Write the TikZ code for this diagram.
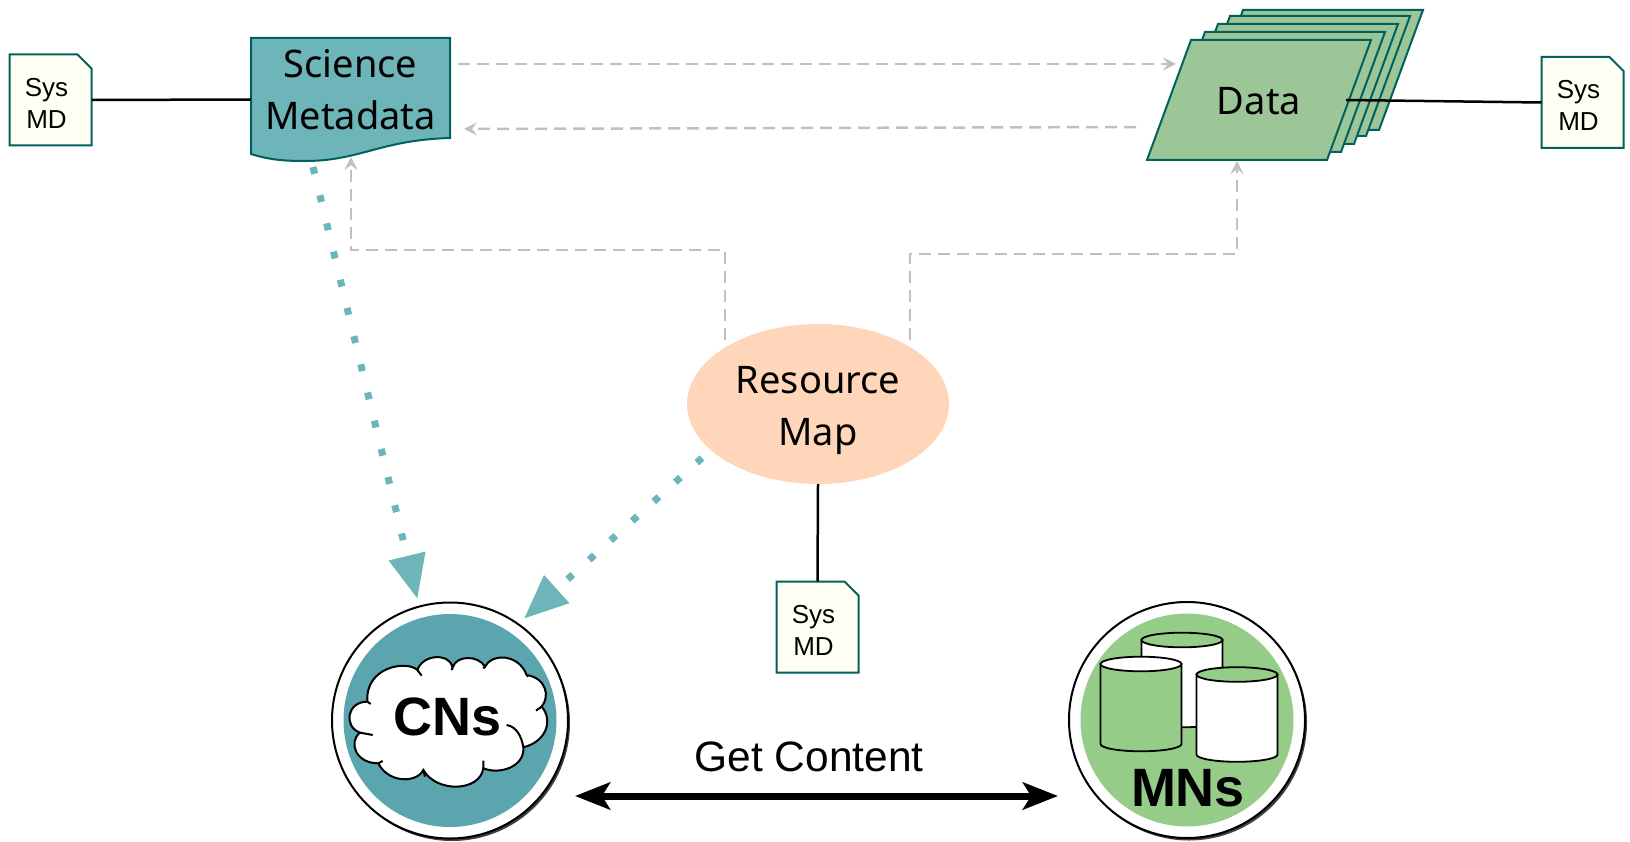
\documentclass[tikz,border=0pt]{standalone}
\usepackage{fontspec}
\setmainfont{Liberation Sans}
\newfontfamily\labelfont{Noto Sans}
\usetikzlibrary{arrows.meta,shapes.geometric,shadows}
\definecolor{darkteal}{HTML}{00625F}
\definecolor{metateal}{HTML}{6DB5B9}
\definecolor{datagreen}{HTML}{9CC697}
\definecolor{notepaper}{HTML}{FFFFF3}
\definecolor{mappeach}{HTML}{FFD6BA}
\definecolor{cnteal}{HTML}{5BA5AE}
\definecolor{mngreen}{HTML}{95CD88}
\definecolor{linkgray}{HTML}{C0C0C0}
\begin{document}
\begin{tikzpicture}[x=1pt,y=-1pt]
% Styles
\tikzset{
  pics/sysnote/.style={code={
    \draw[darkteal, line width=2pt, fill=notepaper] (-41,-45.5) -- (27,-45.5) -- (41,-31.5) -- (41,45.5) -- (-41,45.5) -- cycle;
    \node[minimum width=82pt, minimum height=91pt, inner sep=0pt, label={[inner sep=0pt, xshift=-4pt, yshift=-3pt, align=center, font=\fontsize{26}{32}\selectfont]center:Sys\\MD}] (box) at (0,0) {};
  }},
  pics/sheet/.style={code={
    \draw[darkteal, line width=2pt, fill=datagreen] (-68,-60) -- (112,-60) -- (68,60) -- (-112,60) -- cycle;
  }},
  bigtext/.style={inner sep=0pt, align=center, font=\labelfont\fontsize{38}{52}\selectfont},
  ring/.style={circle, draw=black, line width=2pt, fill=white, minimum size=236pt, inner sep=0pt, outer sep=8pt, drop shadow={shadow xshift=2pt, shadow yshift=-2.5pt, fill=black!75, opacity=1}},
  disc/.style={circle, minimum size=213pt, inner sep=0pt},
  nodename/.style={inner sep=0pt, font=\bfseries\fontsize{54}{60}\selectfont},
  pics/dbcyl/.style 2 args={code={
    \draw[black, line width=1.8pt, fill=#1] (-40.5,-40) -- (-40.5,40) arc[start angle=180, end angle=0, x radius=40.5, y radius=7.3] -- (40.5,-40) -- cycle;
    \draw[black, line width=1.8pt, fill=#2] (0,-40) ellipse[x radius=40.5, y radius=7.3];
  }},
  solidlink/.style={draw=black, line width=2.5pt},
  reflink/.style={draw=linkgray, line width=2.5pt, dash pattern=on 12pt off 7pt, -{Stealth[length=13pt,width=13pt,inset=5pt]}},
  indexlink/.style={draw=metateal, line width=7pt, dash pattern=on 7pt off 22pt, -{Triangle[length=44pt,width=36pt]}},
  getlink/.style={line width=7pt, {Stealth[length=35pt,width=27pt,inset=8pt]}-{Stealth[length=35pt,width=27pt,inset=8pt]}}
}

% Science metadata
\draw[darkteal, line width=2pt, fill=metateal] (251,38) -- (450,38) -- (450,138) .. controls (380,140) and (360,161) .. (305,161) .. controls (285,161) and (270,160) .. (251,154) -- cycle;
\node[minimum width=199pt, minimum height=123pt, inner sep=0pt, label={[bigtext, yshift=10pt]center:Science\\Metadata}] (scimeta) at (350.5,99.5) {};

% Data sheets
\pic at (1311,70) {sheet};
\pic at (1298,76) {sheet};
\pic at (1286,84) {sheet};
\pic at (1273,92) {sheet};
\pic at (1259,100) {sheet};
\node[minimum width=174pt, minimum height=120pt, inner sep=0pt, label={[bigtext, yshift=-1pt]center:Data}] (data) at (1259,100) {};

% Resource map
\node[ellipse, fill=mappeach, minimum width=262pt, minimum height=160pt, inner sep=0pt, label={[bigtext, yshift=-6pt]center:Resource\\Map}] (resmap) at (818,404) {};

% System metadata notes
\pic (sysmeta) at (50.5,100) {sysnote};
\pic (sysdata) at (1582.5,102.5) {sysnote};
\pic (sysmap) at (817.5,627) {sysnote};

% CNs
\node[ring] (cns) at (450,720.5) {};
\node[disc, fill=cnteal] (cndisc) at (450,720.5) {};
\begin{scope}[shift={(310,560)}, x=0.3333pt, y=-0.3333pt]
\draw[black, line width=2pt, fill=white] (150,518) .. controls (100,500) and (110,425) .. (172,425) .. controls (165,320) and (290,300) .. (322,330) .. controls (340,280) and (420,280) .. (428,322) .. controls (440,285) and (505,285) .. (525,320) .. controls (545,280) and (625,280) .. (650,345) .. controls (710,355) and (720,410) .. (695,440) .. controls (730,480) and (710,545) .. (640,562) .. controls (645,620) and (570,645) .. (520,625) .. controls (510,695) and (380,700) .. (340,630) .. controls (320,670) and (235,670) .. (205,610) .. controls (135,610) and (115,545) .. (150,518) -- cycle;
\draw[black, line width=2pt] (150,518) -- (188,525) (172,425) -- (182,432) (322,330) -- (335,347) (428,322) -- (425,330) (525,320) -- (520,325) (650,345) -- (655,350) (695,440) -- (678,452) (590,495) .. controls (620,500) and (635,530) .. (640,562) (520,625) -- (520,602) (340,630) -- (345,650) (205,610) -- (218,603);
\end{scope}
\node[nodename] (cntext) at (448,717) {CNs};

% MNs
\node[ring] (mns) at (1187,720) {};
\node[disc, fill=mngreen] (mndisc) at (1187,720) {};
\pic (dbback) at (1182,680) {dbcyl={white}{mngreen}};
\pic (dbleft) at (1141,704) {dbcyl={mngreen}{white}};
\pic (dbright) at (1237,714.5) {dbcyl={white}{mngreen}};
\node[nodename] (mntext) at (1188,788) {MNs};

% Free ends of the links
\coordinate (metaright) at (458,64);
\coordinate (dataleft) at (1176,64);
\coordinate (databack) at (1136,127);
\coordinate (metaback) at (464,129);
\coordinate (metabottom) at (351,157);
\coordinate (databottom) at (1237,161);
\coordinate (mapleft) at (725,340);
\coordinate (mapright) at (910,340);
\coordinate (metadots) at (313,167);
\coordinate (mapdots) at (702,458);
\coordinate (getleft) at (575,796);
\coordinate (getright) at (1058,796);

% Solid links
\draw[solidlink] (sysmetabox.east) -- (scimeta.west);
\draw[solidlink] (data.east) -- (sysdatabox.west);
\draw[solidlink] (resmap.south) -- (sysmapbox.north);

% Dashed links
\draw[reflink] (metaright) -- (dataleft);
\draw[reflink] (databack) -- (metaback);
\draw[reflink] (mapleft) -- (725,250) -- (351,250) -- (metabottom);
\draw[reflink] (mapright) -- (910,254) -- (1237,254) -- (databottom);

% Dotted links
\draw[indexlink] (metadots) -- (cns.105);
\draw[indexlink] (mapdots) -- (cns.54);

% Get content
\draw[getlink] (getleft) -- node[pos=0.485, above=21pt, inner sep=0pt, font=\fontsize{42.5}{50}\selectfont] (getlabel) {Get Content} (getright);

\useasboundingbox (0,0) rectangle (1630,842);
\end{tikzpicture}
\end{document}
